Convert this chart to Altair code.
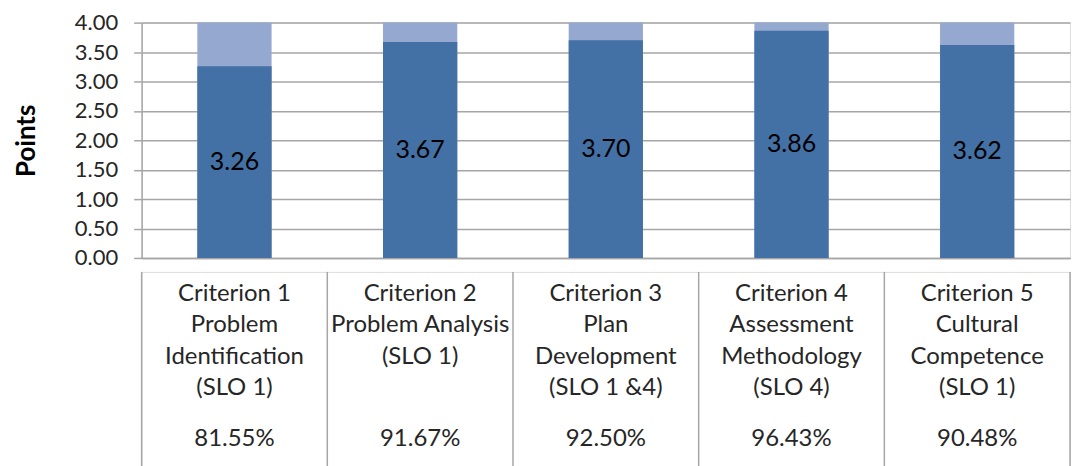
import altair as alt
import pandas as pd

categories = ["C1", "C2", "C3", "C4", "C5"]
labels = [
    "Criterion 1\nProblem\nIdentification\n(SLO 1)",
    "Criterion 2\nProblem Analysis\n(SLO 1)",
    "Criterion 3\nPlan\nDevelopment\n(SLO 1 &4)",
    "Criterion 4\nAssessment\nMethodology\n(SLO 4)",
    "Criterion 5\nCultural\nCompetence\n(SLO 1)",
]
scores = [3.26, 3.67, 3.70, 3.86, 3.62]
max_points = [4.00, 4.00, 4.00, 4.00, 4.00]
percents = ["81.55%", "91.67%", "92.50%", "96.43%", "90.48%"]
y_ticks = [0, 0.5, 1, 1.5, 2, 2.5, 3, 3.5, 4]

FONT = "Lato"
GRID = "#A6A6A6"
W = 931

df = pd.DataFrame({
    "cat": categories,
    "label": labels,
    "score": scores,
    "max": max_points,
    "pct": percents,
})
df["mid"] = df["score"] / 2
df["lbl"] = df["score"].map(lambda v: f"{v:.2f}")

xs = alt.X("cat:N", sort=categories,
           scale=alt.Scale(paddingInner=0.6, paddingOuter=0.3),
           axis=alt.Axis(labels=False, ticks=False, title=None,
                         domainColor=GRID, domainWidth=1.5))
yscale = alt.Scale(domain=[0, 4], nice=False)

yaxis = alt.Axis(values=y_ticks, tickCount=9,
                 format=".2f", title="Points", labelOverlap=False,
                 titleFont=FONT, titleFontSize=26, titleFontWeight="bold",
                 titleColor="#000000", titlePadding=35,
                 labelFont=FONT, labelFontSize=22, labelColor="#262626",
                 labelPadding=16, tickSize=8, tickColor=GRID, tickWidth=1.5,
                 domainColor=GRID, domainWidth=1.5,
                 gridColor=GRID, gridWidth=1.5)

base = alt.Chart(df)

remainder = base.mark_bar(color="#95A9D0").encode(
    x=xs,
    y=alt.Y("max:Q", scale=yscale, axis=yaxis),
)

score_bar = base.mark_bar(color="#4471A5").encode(
    x=xs,
    y=alt.Y("score:Q", scale=yscale, axis=yaxis),
)

score_text = base.mark_text(font=FONT, fontSize=25, color="#000000").encode(
    x=xs,
    y=alt.Y("mid:Q", scale=yscale, axis=yaxis),
    text="lbl:N",
)

top = alt.layer(remainder, score_bar, score_text).properties(width=W, height=236)

xb = alt.X("cat:N", sort=categories,
           scale=alt.Scale(paddingInner=0, paddingOuter=0), axis=None)

label_text = alt.Chart(df).mark_text(
    font=FONT, fontSize=24, color="#262626", lineBreak="\n",
    lineHeight=31.5, baseline="top",
).encode(x=xb, y=alt.value(10), text="label:N")

pct_text = alt.Chart(df).mark_text(
    font=FONT, fontSize=24, color="#262626", baseline="middle",
).encode(x=xb, y=alt.value(168), text="pct:N")

left_rules = alt.Chart(df).mark_rule(color=GRID, strokeWidth=1.5).encode(
    x=alt.X("cat:N", sort=categories, bandPosition=0,
            scale=alt.Scale(paddingInner=0, paddingOuter=0), axis=None),
    y=alt.value(0), y2=alt.value(197),
)
right_rule = alt.Chart(df.tail(1)).mark_rule(color=GRID, strokeWidth=1.5).encode(
    x=alt.X("cat:N", sort=categories, bandPosition=1,
            scale=alt.Scale(paddingInner=0, paddingOuter=0, domain=categories), axis=None),
    y=alt.value(0), y2=alt.value(197),
)

bottom = alt.layer(label_text, pct_text, left_rules, right_rule).properties(
    width=W, height=197
).resolve_scale(x="shared")

chart = alt.vconcat(top, bottom, spacing=0).properties(
    padding={"top": 2, "left": 5, "right": 5, "bottom": 0}
).configure_view(stroke=None).configure(background="white")

chart.save("out.html", embed_options={"renderer": "svg", "actions": False})
